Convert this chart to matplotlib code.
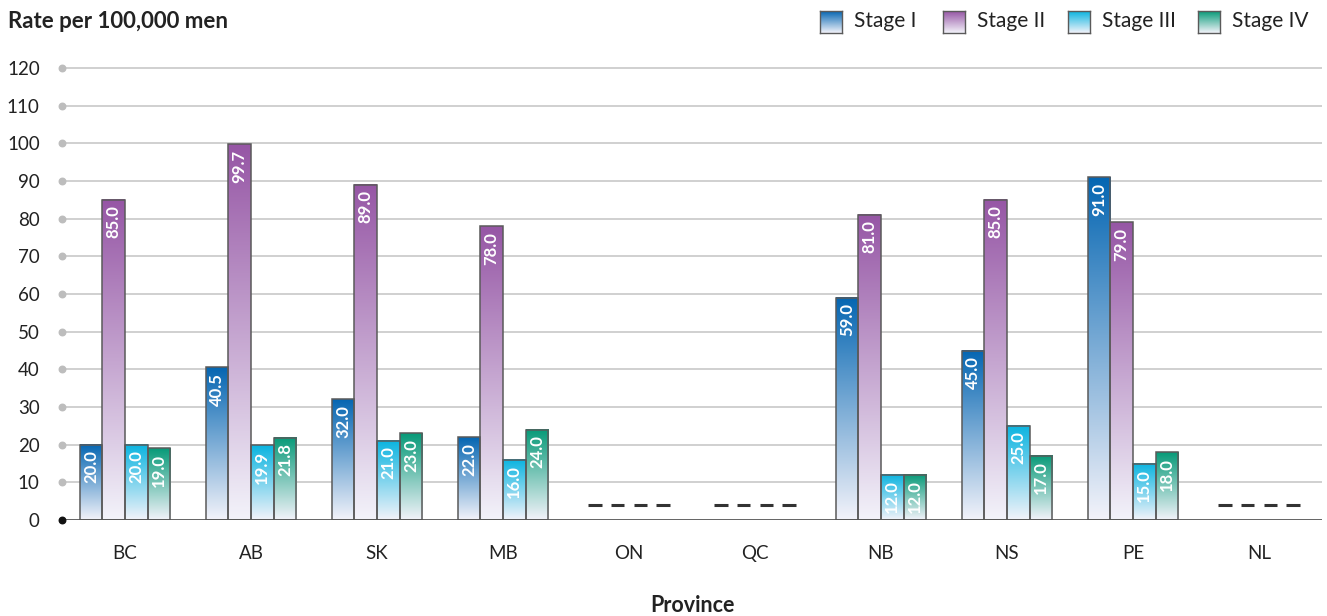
import numpy as np
import matplotlib
matplotlib.use("Agg")
import matplotlib.pyplot as plt
from matplotlib.colors import LinearSegmentedColormap

plt.rcParams['font.family'] = ['Lato', 'DejaVu Sans']

provinces = ['BC', 'AB', 'SK', 'MB', 'ON', 'QC', 'NB', 'NS', 'PE', 'NL']
stages = ['Stage I', 'Stage II', 'Stage III', 'Stage IV']
stage1 = [20.0, 40.5, 32.0, 22.0, np.nan, np.nan, 59.0, 45.0, 91.0, np.nan]
stage2 = [85.0, 99.7, 89.0, 78.0, np.nan, np.nan, 81.0, 85.0, 79.0, np.nan]
stage3 = [20.0, 19.9, 21.0, 16.0, np.nan, np.nan, 12.0, 25.0, 15.0, np.nan]
stage4 = [19.0, 21.8, 23.0, 24.0, np.nan, np.nan, 12.0, 17.0, 18.0, np.nan]
series = [stage1, stage2, stage3, stage4]
colors = ['#0566b2', '#9656a5', '#0ab4e0', '#079a78']
yticks = list(range(0, 121, 10))
missing_level = 4

W, H = 1327, 616
fig = plt.figure(figsize=(W / 100, H / 100), dpi=100)
ax = fig.add_axes([62 / W, 1 - 520 / H, 1260 / W, (520 - 68) / H * 121 / 120])

bw = 0.18
offsets = (np.arange(4) - 1.5) * bw
x = np.arange(len(provinces))
grad = np.linspace(1, 0, 256).reshape(-1, 1)


def cmap_for(c):
    return LinearSegmentedColormap.from_list('g', ['#f3f3fa', c])


for s, vals in enumerate(series):
    cm = cmap_for(colors[s])
    for i, v in enumerate(vals):
        xc = x[i] + offsets[s]
        if np.isnan(v):
            ax.plot([xc - 0.052, xc + 0.052], [missing_level] * 2, color='#333333',
                    lw=2.2, solid_capstyle='butt', zorder=4)
            continue
        ax.imshow(grad, cmap=cm, extent=[xc - bw / 2, xc + bw / 2, 0, v],
                  aspect='auto', zorder=3, vmin=0, vmax=1)
        ax.bar(xc, v, width=bw, facecolor='none', edgecolor='#5a5a5a', lw=1.1, zorder=4)
        ax.annotate(f'{v:.1f}', (xc, v), xytext=(0, -4), textcoords='offset points',
                    rotation=90, ha='center', va='top', color='white',
                    fontsize=12, fontweight='bold', zorder=5)

ax.set_xlim(-0.5, len(provinces) - 0.5)
ax.set_ylim(0, 121)
ax.set_yticks(yticks)
ax.set_yticklabels([str(t) for t in yticks], fontsize=13.5, color='#222222')
ax.set_xticks(x)
ax.set_xticklabels(provinces, fontsize=13.5, color='#222222')
ax.tick_params(axis='y', length=0, pad=16)
ax.tick_params(axis='x', length=0, pad=18)
for sp in ax.spines.values():
    sp.set_visible(False)
for t in yticks[1:]:
    ax.axhline(t, color='#c8c8c8', lw=1.2, zorder=1)
ax.axhline(0, color='#555555', lw=2, zorder=6)
ax.scatter([-0.5] * (len(yticks) - 1), yticks[1:], s=22, color='#bdbdbd', zorder=7, clip_on=False)
ax.scatter([-0.5], [0], s=22, color='#111111', zorder=7, clip_on=False)

fig.text(8 / W, 1 - 22 / H, 'Rate per 100,000 men', fontsize=16, fontweight='bold',
         color='#222222', va='center', ha='left')
fig.text(0.5 * (62 + 1322) / W, 1 - 606 / H, 'Province', fontsize=15.5, fontweight='bold',
         color='#222222', va='center', ha='center')

# legend drawn by hand so the swatches keep the gradient
sw_x = [820, 943, 1068, 1198]
for s, name in enumerate(stages):
    lax = fig.add_axes([sw_x[s] / W, 1 - 33 / H, 22 / W, 22 / H])
    lax.imshow(grad, cmap=cmap_for(colors[s]), aspect='auto', extent=[0, 1, 0, 1])
    lax.set_xticks([])
    lax.set_yticks([])
    for sp in lax.spines.values():
        sp.set_color('#5a5a5a')
        sp.set_linewidth(1)
    fig.text((sw_x[s] + 34) / W, 1 - 21 / H, name, fontsize=15, color='#222222',
             va='center', ha='left')

fig.savefig('out.png', dpi=100)
